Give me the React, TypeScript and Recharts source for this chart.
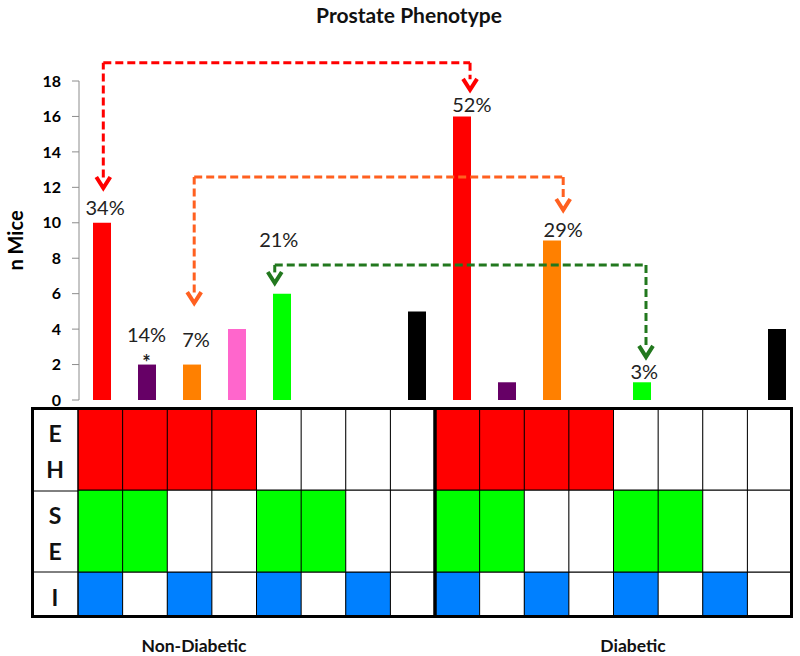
import React from 'react';
import {
  BarChart,
  Bar,
  XAxis,
  YAxis,
  Cell,
  Label,
  ReferenceLine,
  ReferenceDot,
} from 'recharts';

// phenotype columns, same order in both groups
const groups = ['Non-Diabetic', 'Diabetic'];
const phenotypes = ['EH+SE+I', 'EH+SE', 'EH+I', 'EH', 'SE+I', 'SE', 'I', 'None'];
const nonDiabeticMice = [10, 2, 2, 4, 6, 0, 0, 5];
const diabeticMice = [16, 1, 9, 0, 1, 0, 0, 4];
const barColors = ['#FF0000', '#660066', '#FF8000', '#FF66CC', '#00FF00', '#00FF00', '#0080FF', '#000000'];
const yTicks = [0, 2, 4, 6, 8, 10, 12, 14, 16, 18];

// phenotype table (1 = present)
const ehFlags = [1, 1, 1, 1, 0, 0, 0, 0];
const seFlags = [1, 1, 0, 0, 1, 1, 0, 0];
const iFlags = [1, 0, 1, 0, 1, 0, 1, 0];

// percentage annotations, anchored in data space (pos = column index)
const pctLabels = [
  { pos: 0.08, y: 10.88, text: '34%' },
  { pos: 1.0, y: 3.75, text: '14%' },
  { pos: 1.0, y: 2.15, text: '*' },
  { pos: 2.1, y: 3.44, text: '7%' },
  { pos: 3.94, y: 9.07, text: '21%' },
  { pos: 8.23, y: 16.7, text: '52%' },
  { pos: 10.26, y: 9.64, text: '29%' },
  { pos: 12.06, y: 1.63, text: '3%' },
];

// dashed comparison arrows: from column x1 (tip y1) over level `via` to column x2 (tip y2)
const arrows = [
  { color: '#FF0000', x1: 0.04, y1: 11.96, via: 19.03, x2: 8.19, y2: 17.5 },
  { color: '#FF6020', x1: 2.06, y1: 5.47, via: 12.58, x2: 10.26, y2: 10.72 },
  { color: '#22781E', x1: 3.85, y1: 6.6, via: 7.62, x2: 12.1, y2: 2.43 },
];

const rows = groups.flatMap((g, gi) =>
  phenotypes.map((p, pi) => ({
    cat: `${g} ${p}`,
    pos: gi * 8 + pi,
    n: (gi === 0 ? nonDiabeticMice : diabeticMice)[pi],
    color: barColors[pi],
    eh: ehFlags[pi],
    se: seFlags[pi],
    i: iFlags[pi],
  }))
);

const rowSpan = { I: 45, SE: 82, EH: 82 };
const tableHeight = rowSpan.I + rowSpan.SE + rowSpan.EH;

const font = 'Lato, "Open Sans", sans-serif';

const NMiceLabel = (props: any) => {
  const vb = props.viewBox || { x: 0, y: 81, width: 79, height: 319 };
  const cx = vb.x + 15;
  const cy = vb.y + vb.height / 2;
  return (
    <text
      x={cx}
      y={cy}
      transform={`rotate(-90 ${cx} ${cy})`}
      textAnchor="middle"
      dominantBaseline="central"
      fontFamily={font}
      fontWeight={700}
      fontSize={20}
      fill="#000"
    >
      n Mice
    </text>
  );
};

const arrowHead = (color: string) => (props: any) => {
  const { cx, cy } = props;
  return (
    <polyline
      points={`${cx - 7},${cy - 11} ${cx},${cy} ${cx + 7},${cy - 11}`}
      fill="none"
      stroke={color}
      strokeWidth={4}
    />
  );
};

const pctText = (text: string) => (props: any) => (
  <text
    x={props.cx}
    y={props.cy}
    textAnchor="middle"
    dominantBaseline="central"
    fontFamily={font}
    fontSize={text === '*' ? 20 : 20}
    fontWeight={text === '*' ? 700 : 400}
    fill="#222"
  >
    {text}
  </text>
);

const App = () => {
  const dash = { strokeDasharray: '8 4', strokeWidth: 3 };
  return (
    <div
      style={{
        position: 'absolute',
        left: 0,
        top: 0,
        width: 800,
        height: 656,
        background: '#fff',
        fontFamily: font,
      }}
    >
      <div style={{ position: 'absolute', left: 0, top: 0 }}>
        <BarChart
          width={800}
          height={420}
          data={rows}
          margin={{ top: 81, right: 1, bottom: 20, left: 0 }}
          barCategoryGap={0}
        >
          <XAxis dataKey="cat" hide />
          <XAxis xAxisId="pos" dataKey="pos" type="number" domain={[-0.5, 15.5]} hide allowDataOverflow />
          <YAxis
            domain={[0, 18]}
            ticks={yTicks}
            interval={0}
            width={79}
            tickSize={7}
            tickMargin={11}
            stroke="#8c8c8c"
            tick={{ fill: '#000', fontSize: 16, fontWeight: 700, fontFamily: font }}
          >
            <Label content={NMiceLabel} />
          </YAxis>
          <Bar dataKey="n" barSize={18} isAnimationActive={false}>
            {rows.map((r) => (
              <Cell key={r.cat} fill={r.color} />
            ))}
          </Bar>

          {arrows.map((a, k) => [
            <ReferenceLine
              key={`l${k}`}
              xAxisId="pos"
              ifOverflow="visible"
              stroke={a.color}
              {...dash}
              segment={[{ x: a.x1, y: a.y1 + 0.6 }, { x: a.x1, y: a.via }]}
            />,
            <ReferenceLine
              key={`h${k}`}
              xAxisId="pos"
              ifOverflow="visible"
              stroke={a.color}
              {...dash}
              segment={[{ x: a.x1, y: a.via }, { x: a.x2, y: a.via }]}
            />,
            <ReferenceLine
              key={`r${k}`}
              xAxisId="pos"
              ifOverflow="visible"
              stroke={a.color}
              {...dash}
              segment={[{ x: a.x2, y: a.via }, { x: a.x2, y: a.y2 + 0.6 }]}
            />,
            <ReferenceDot
              key={`a${k}`}
              xAxisId="pos"
              x={a.x1}
              y={a.y1}
              ifOverflow="visible"
              shape={arrowHead(a.color)}
            />,
            <ReferenceDot
              key={`b${k}`}
              xAxisId="pos"
              x={a.x2}
              y={a.y2}
              ifOverflow="visible"
              shape={arrowHead(a.color)}
            />,
          ])}

          {pctLabels.map((p, k) => (
            <ReferenceDot
              key={`p${k}`}
              xAxisId="pos"
              x={p.pos}
              y={p.y}
              ifOverflow="visible"
              shape={pctText(p.text)}
            />
          ))}
        </BarChart>
      </div>

      <div style={{ position: 'absolute', left: 0, top: 408 }}>
        <BarChart
          width={800}
          height={tableHeight}
          data={rows}
          margin={{ top: 0, right: 8, bottom: 0, left: 78 }}
          barCategoryGap={0}
          barGap={0}
        >
          <XAxis dataKey="cat" hide />
          <YAxis hide domain={[0, tableHeight]} />
          <Bar stackId="t" dataKey={() => rowSpan.I} stroke="#000" strokeWidth={1} isAnimationActive={false}>
            {rows.map((r) => (
              <Cell key={r.cat} fill={r.i ? '#0080FF' : '#FFFFFF'} />
            ))}
          </Bar>
          <Bar stackId="t" dataKey={() => rowSpan.SE} stroke="#000" strokeWidth={1} isAnimationActive={false}>
            {rows.map((r) => (
              <Cell key={r.cat} fill={r.se ? '#00FF00' : '#FFFFFF'} />
            ))}
          </Bar>
          <Bar stackId="t" dataKey={() => rowSpan.EH} stroke="#000" strokeWidth={1} isAnimationActive={false}>
            {rows.map((r) => (
              <Cell key={r.cat} fill={r.eh ? '#FF0000' : '#FFFFFF'} />
            ))}
          </Bar>
        </BarChart>
      </div>

      <svg
        width={800}
        height={656}
        style={{ position: 'absolute', left: 0, top: 0, pointerEvents: 'none' }}
        fontFamily={font}
      >
        <text x={409} y={14} textAnchor="middle" dominantBaseline="central" fontWeight={700} fontSize={21} fill="#111">
          Prostate Phenotype
        </text>

        <line x1={78} y1={408} x2={78} y2={617} stroke="#000" strokeWidth={1} />
        <line x1={32} y1={491} x2={78} y2={491} stroke="#000" strokeWidth={1} />
        <line x1={32} y1={572} x2={78} y2={572} stroke="#000" strokeWidth={1} />
        <rect x={32.5} y={408.5} width={759} height={208} fill="none" stroke="#000" strokeWidth={3} />
        <line x1={435} y1={408} x2={435} y2={617} stroke="#000" strokeWidth={3.5} />

        {[
          ['E', 433],
          ['H', 469],
          ['S', 515],
          ['E', 551],
          ['I', 597],
        ].map(([t, y], k) => (
          <text key={k} x={55} y={y as number} textAnchor="middle" dominantBaseline="central" fontSize={23} fontWeight={700} fill="#111">
            {t}
          </text>
        ))}

        <text x={194} y={645} textAnchor="middle" dominantBaseline="central" fontWeight={700} fontSize={17.5} fill="#111">
          {groups[0]}
        </text>
        <text x={633} y={645} textAnchor="middle" dominantBaseline="central" fontWeight={700} fontSize={17.5} fill="#111">
          {groups[1]}
        </text>
      </svg>
    </div>
  );
};

export default App;
